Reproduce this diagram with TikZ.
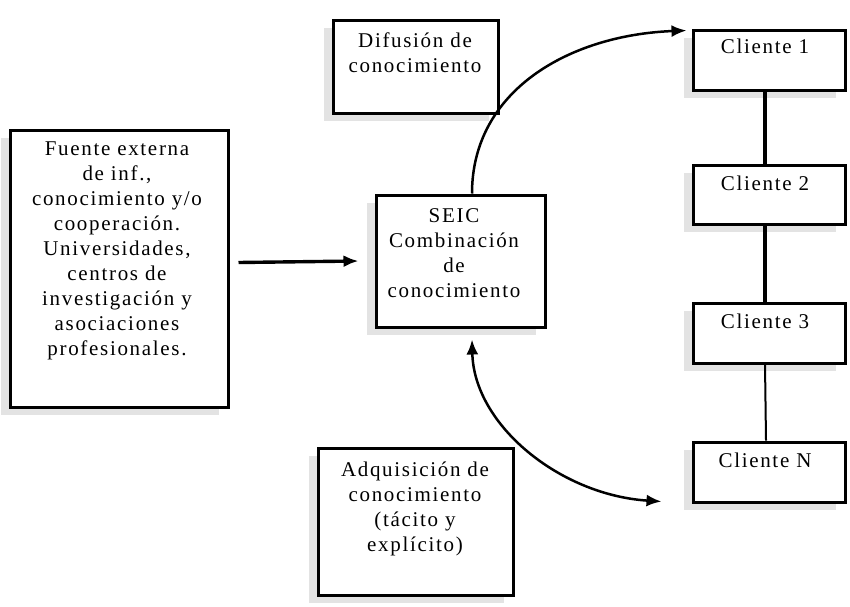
\documentclass[tikz,border=0pt]{standalone}
\usepackage{fontspec}
\setmainfont{Liberation Serif}[LetterSpace=8]
\usetikzlibrary{arrows.meta,calc,shadows}
\begin{document}
\begin{tikzpicture}[x=1pt,y=-1pt,
  box/.style={draw=black,line width=3pt,fill=white,inner sep=0pt,
    drop shadow={shadow xshift=-9pt,shadow yshift=-8pt,fill=black!11,opacity=1}},
  txt/.style={align=center,anchor=base,inner sep=0pt,
    font=\fontsize{21}{25}\selectfont},
  link/.style={line width=3.4pt},
  thinlink/.style={line width=2pt},
  tip/.style={-{Latex[length=15pt,width=12pt]}},
  curve/.style={line width=2.5pt}]
\useasboundingbox (0,0) rectangle (850,606);
% boxes
\node[box,minimum width=218pt,minimum height=277pt] (fuente) at (119,268.5) {};
\node[box,minimum width=165pt,minimum height=93pt] (difu) at (415.5,66.5) {};
\node[box,minimum width=169pt,minimum height=132pt] (seic) at (460.5,261) {};
\node[box,minimum width=195pt,minimum height=147pt] (adq) at (415.5,521.5) {};
\node[box,minimum width=152pt,minimum height=60pt] (c1) at (769,60) {};
\node[box,minimum width=152pt,minimum height=59pt] (c2) at (769,194.5) {};
\node[box,minimum width=152pt,minimum height=60pt] (c3) at (769,333) {};
\node[box,minimum width=152pt,minimum height=60pt] (c4) at (769,472) {};
% texts (anchor base = last line's baseline)
\node[txt] (fuentet) at (117,355) {Fuente externa\\de inf.,\\conocimiento y/o\\cooperación.\\Universidades,\\centros de\\investigación y\\asociaciones\\profesionales.};
\node[txt] (difut) at (415,72.5) {Difusión de\\conocimiento};
\node[txt] (seict) at (454,297.5) {SEIC\\Combinación\\de\\conocimiento};
\node[txt] (adqt) at (415,551.5) {Adquisición de\\conocimiento\\(tácito y\\explícito)};
\node[txt] (c1t) at (765,53) {Cliente 1};
\node[txt] (c2t) at (765,190) {Cliente 2};
\node[txt] (c3t) at (765,328) {Cliente 3};
\node[txt] (c4t) at (765,467) {Cliente N};
% connectors
\draw[link,tip] ($(fuente.east)+(9,-6)$) -- ($(seic.west)+(-16,0)$);
\draw[link] ($(c1.south)+(-4,0)$) -- ($(c2.north)+(-4,0)$);
\draw[link] ($(c2.south)+(-4,0)$) -- ($(c3.north)+(-4,0)$);
\draw[thinlink] ($(c3.south)+(-4,0)$) -- ($(c4.north)+(-3,0)$);
\draw[curve,tip] ($(seic.north)+(11.5,0)$) .. controls (472,90) and (570,35) .. ($(c1.north west)+(-5,2)$);
\draw[curve,{Latex[length=15pt,width=12pt]}-{Latex[length=15pt,width=12pt]}] ($(seic.south)+(11.5,11)$) .. controls (474,425) and (560,495) .. ($(c4.south west)+(-30,-2)$);
\end{tikzpicture}
\end{document}
